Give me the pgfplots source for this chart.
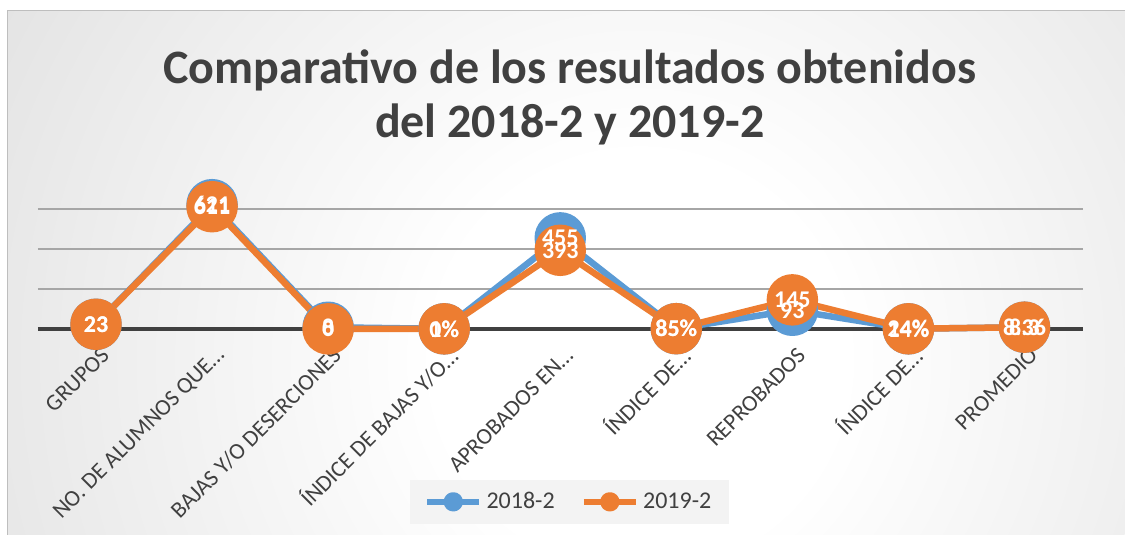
\documentclass[border=0pt]{standalone}
\usepackage{fontspec}
\setmainfont{Carlito}
\usepackage{pgfplots}
\pgfplotsset{compat=1.18}

\definecolor{cblue}{HTML}{5B9BD5}
\definecolor{corange}{HTML}{ED7D31}
\definecolor{ctext}{HTML}{404040}
\definecolor{cgrid}{HTML}{A6A6A6}
\definecolor{bggray}{HTML}{BEBEBE}
\definecolor{legfill}{HTML}{F3F3F3}
\pgfdeclareradialshading{bgshade}{\pgfpoint{0bp}{0bp}}{color(0bp)=(white); color(7bp)=(white); color(50bp)=(bggray)}

\begin{document}
\begin{tikzpicture}
% background (1px = 0.5pt)
\fill[white] (0,0) rectangle (562.5pt,-267.5pt);
\begin{scope}
  \clip (3.75pt,-5.5pt) rectangle (562.5pt,-267.5pt);
  \shade[shading=bgshade] (320pt,-180pt) circle (365pt);
\end{scope}
\draw[bggray, line width=0.5pt] (3.75pt,-267.5pt) -- (3.75pt,-5.5pt) -- (562.5pt,-5.5pt);

% title
\node[anchor=base, text=ctext, font=\bfseries\fontsize{24}{28}\selectfont] at (285pt,-42pt) {Comparativo de los resultados obtenidos};
\node[anchor=base, text=ctext, font=\bfseries\fontsize{24}{28}\selectfont] at (285pt,-69pt) {del 2018-2 y 2019-2};

\begin{axis}[
    at={(19pt,-164.5pt)}, anchor=south west,
    scale only axis, width=522.5pt, height=70pt,
    xmin=-0.5, xmax=8.5, ymin=0, ymax=700,
    clip=false,
    axis line style={draw=none},
    major tick length=0pt,
    xtick={0,...,8},
    xticklabels={GRUPOS, NO. DE ALUMNOS QUE…, BAJAS Y/O DESERCIONES, ÍNDICE DE BAJAS Y/O…, APROBADOS EN…, ÍNDICE DE…, REPROBADOS, ÍNDICE DE…, PROMEDIO},
    xticklabel style={font=\fontsize{11.5}{13}\selectfont, text=ctext, xshift=7pt, yshift=-9pt, rotate=45, anchor=east},
    ytick={200,400,600}, yticklabels={},
    ymajorgrids, grid style={cgrid, line width=0.9pt},
    extra y ticks={0}, extra y tick labels={},
    extra y tick style={grid style={ctext, line width=2pt}},
    legend columns=2,
    legend style={at={(0.509,-1.236)}, anchor=center, draw=none, fill=legfill,
        font=\fontsize{12}{14}\selectfont, text=ctext, inner xsep=7pt, inner ysep=4pt,
        /tikz/every even column/.append style={column sep=11pt}},
    legend image code/.code={\draw[#1, mark repeat=2, mark phase=2, mark size=3.2pt] plot coordinates {(0pt,0pt) (13pt,0pt) (26pt,0pt)};},
    every axis plot/.append style={line width=3.25pt, line join=round, mark=*, mark size=11.25pt, mark options={solid, line width=0.5pt}},
]
% 2018-2
\addplot[cblue, mark options={fill=cblue}] coordinates {
    (0,23) (1,621) (2,8) (3,0.01) (4,455) (5,0.85) (6,93) (7,0.14) (8,8.3)
};
\addlegendentry{2018-2}
% 2019-2
\addplot[corange, mark options={fill=corange}] coordinates {
    (0,23) (1,611) (2,0) (3,0) (4,393) (5,0.85) (6,145) (7,0.24) (8,8.36)
};
\addlegendentry{2019-2}

% data labels on top
\addplot[draw=none, mark=none, forget plot, nodes near coords, point meta=explicit symbolic,
    nodes near coords align={center},
    every node near coord/.append style={anchor=center, text=white, font=\bfseries\fontsize{12}{14}\selectfont}]
coordinates {
    (0,23) [23] (1,621) [621] (2,8) [8] (3,0.01) [1\%] (4,455) [455] (5,0.85) [85\%] (6,93) [93] (7,0.14) [14\%] (8,8.3) [8.3]
};
\addplot[draw=none, mark=none, forget plot, nodes near coords, point meta=explicit symbolic,
    nodes near coords align={center},
    every node near coord/.append style={anchor=center, text=white, font=\bfseries\fontsize{12}{14}\selectfont}]
coordinates {
    (0,23) [23] (1,611) [611] (2,0) [0] (3,0) [0\%] (4,393) [393] (5,0.85) [85\%] (6,145) [145] (7,0.24) [24\%] (8,8.36) [8.36]
};
\end{axis}
\path (0,0) (562.5pt,-267.5pt);
\end{tikzpicture}
\end{document}
